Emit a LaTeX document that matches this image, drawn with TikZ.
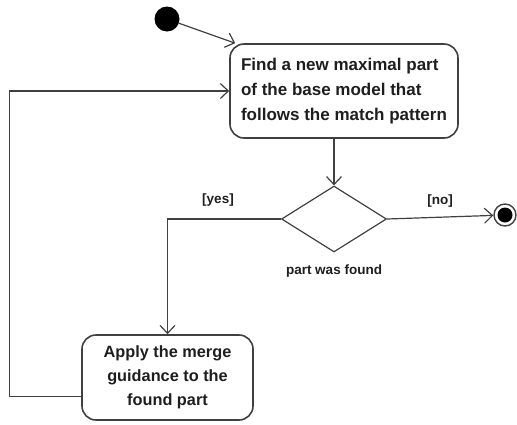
\documentclass[tikz,border=0pt]{standalone}
\usepackage{fontspec}
\setmainfont{Liberation Sans}
\usetikzlibrary{positioning, arrows.meta, shapes.geometric, calc}
\definecolor{lineGray}{HTML}{404040}
\definecolor{inkDark}{HTML}{1E1E1E}

\begin{document}
\begin{tikzpicture}[x=1pt, y=1pt, every node/.style={align=center, text=inkDark}]
    \tikzset{actbox/.style={draw=lineGray, line width=1.6pt, rounded corners=14pt, inner sep=0pt},
      flow/.style={-{Straight Barb[length=8pt,width=15pt]}, draw=lineGray, line width=1.2pt},
      guard/.style={font=\bfseries\fontsize{13.5}{15}\selectfont}}
    \useasboundingbox (0,0) rectangle (517,-424);
    \node[circle, fill=black, minimum size=25pt, inner sep=0pt] (start) at (167,-19) {};
    \node[actbox, minimum width=228pt, minimum height=94pt, align=left,
      font=\bfseries\fontsize{17}{25}\selectfont] (find) at (344,-91)
      {Find a new maximal part\\of the base model that\\follows the match pattern};
    \node[diamond, draw=lineGray, line width=1.2pt, minimum width=105pt, minimum height=66pt, inner sep=0pt] (decide) at (334,-219) {};
    \node[guard, below=9pt of decide] (found) {part was found};
    \node[circle, draw=lineGray, line width=1.4pt, minimum size=22pt, inner sep=0pt] (stop) at (505,-215) {};
    \node[circle, fill=black, minimum size=15pt, inner sep=0pt] (stopdot) at (stop) {};
    \node[actbox, minimum width=171pt, minimum height=85pt,
      font=\bfseries\fontsize{16.3}{24}\selectfont] (apply) at (167.5,-377.5)
      {Apply the merge\\guidance to the\\found part};
    \draw[flow] (start) -- ([xshift=6pt]find.north west);
    \draw[flow] (decide.north |- find.south) -- (decide.north);
    \draw[flow] (decide.east) -- node[guard, above=6pt] (nolabel) {[no]} (stop);
    \draw[flow] (decide.west) -| (apply.north);
    \node[guard] (yeslabel) at (218,-200) {[yes]};
    \draw[flow] ([yshift=-19pt]apply.west) -- ++(-72,0) |- (find.west);
  \end{tikzpicture}
\end{document}
